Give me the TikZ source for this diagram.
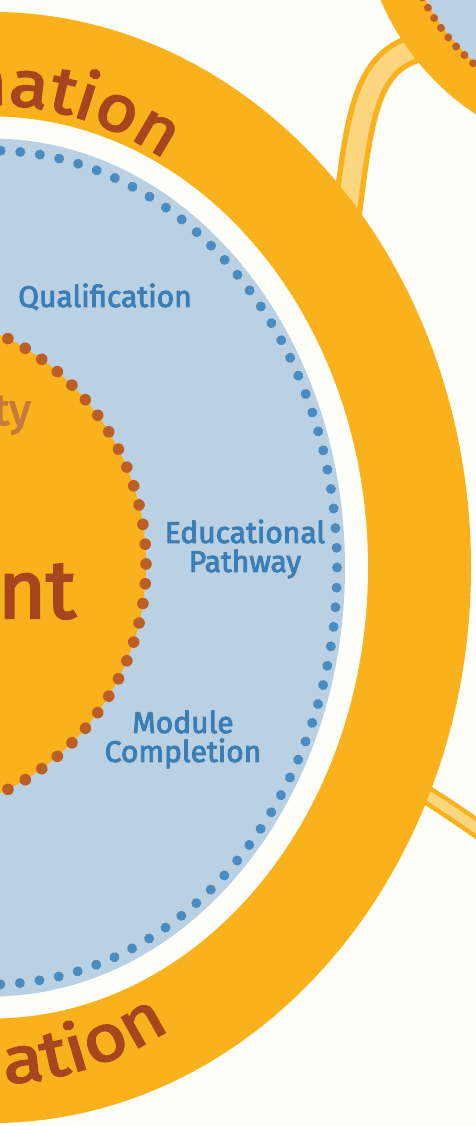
\documentclass[tikz,border=0pt]{standalone}
\usepackage{fontspec}
\newfontfamily\firamed{Fira Sans}[FakeBold=3]
\newfontfamily\ringfam{Fira Sans}[FakeBold=3, FakeStretch=1.1]
\newfontfamily\ringfamwide{Fira Sans}[FakeBold=3, FakeStretch=1.15]
\usetikzlibrary{calc,decorations.text,decorations.markings}
\definecolor{bgc}{HTML}{FEFEFA}
\definecolor{ringor}{HTML}{F9B21B}
\definecolor{paleor}{HTML}{FCD57F}
\definecolor{bluefill}{HTML}{BAD1E3}
\definecolor{bluedot}{HTML}{4A8CC2}
\definecolor{bluetxt}{HTML}{3B7EB6}
\definecolor{browndot}{HTML}{BE5E27}
\definecolor{browntxt}{HTML}{A7461E}
\definecolor{tytxt}{HTML}{C57A3B}
\newcommand\ringfont{\ringfam\fontsize{65}{65}\selectfont\color{browntxt}}
\newcommand\ringfontwide{\ringfamwide\fontsize{65}{65}\selectfont\color{browntxt}}
\tikzset{
  labeltxt/.style={font=\firamed\fontsize{30}{29}\selectfont, text=bluetxt, align=center, inner sep=0pt},
  dotring/.style n args={3}{decoration={markings,
      mark=between positions 0 and 0.999 step #1 with {\fill[#2] (0,0) circle (#3);}}, decorate},
  linkouterA/.style={draw=ringor, line width=30pt},
  linkinnerA/.style={draw=paleor, line width=19pt},
  linkouterB/.style={draw=ringor, line width=19pt},
  linkinnerB/.style={draw=paleor, line width=10pt},
}
\begin{document}
\begin{tikzpicture}[x=1pt,y=1pt]
\fill[bgc] (0,0) rectangle (475,1126);
\useasboundingbox (0,0) rectangle (475,1126);
% centres
\coordinate (C1) at (-9,558.5);
\coordinate (C2) at (-107,562);
\coordinate (C3) at (618,1227);
% link ends
\coordinate (L1a) at (345,896);
\coordinate (L1b) at (430,1081);
\coordinate (L2a) at (395,350);
\coordinate (L2b) at (495,285);
% connectors
\draw[linkouterA] (L1a) .. controls (360,1016) and (365,1071) .. (L1b);
\draw[linkinnerA] (L1a) .. controls (360,1016) and (365,1071) .. (L1b);
\draw[linkouterB] (L2a) .. controls (430,330) and (455,313) .. (L2b);
\draw[linkinnerB] (L2a) .. controls (430,330) and (455,313) .. (L2b);
% top-right circle
\fill[ringor] (C3) circle (258pt);
\fill[bluefill] (C3) circle (217pt);
\path[dotring={0.008696}{browndot}{4pt}] (C3) circle (219pt);
% main ring
\fill[ringor] (C1) ellipse [x radius=480pt, y radius=555.6pt];
\fill[bgc] (C1) ellipse [x radius=377pt, y radius=451pt];
\fill[bluefill] (C1) ellipse [x radius=354pt, y radius=429pt];
\path[dotring={0.008197}{bluedot}{5pt}] (C1) ellipse [x radius=346pt, y radius=417pt];
% inner disc
\fill[ringor] (C2) circle (253pt);
\path[dotring={0.0125}{browndot}{5.8pt}] (C2) circle (253pt);
% ring texts
\path[decorate, decoration={text along path, text align=right, text={|\ringfont|nation}}]
  ($(C1)+(100:368pt and 463pt)$) arc[start angle=100, end angle=61.8, x radius=368pt, y radius=463pt];
\path[decorate, decoration={text along path, text align=left, text={|\ringfontwide|ation}}]
  ($(C1)+(-88:400pt and 516pt)$) arc[start angle=-88, end angle=-40, x radius=400pt, y radius=516pt];
% inner texts
\node[font=\firamed\fontsize{44}{44}\selectfont, text=tytxt, inner sep=0pt, anchor=base east] (ty) at (31,701) {ty};
\node[font=\firamed\fontsize{82}{82}\selectfont, text=browntxt, inner sep=0pt, anchor=base east] (nt) at (76,508) {nt};
\node[labeltxt, anchor=base] (qual) at (105,819) {Qualification};
\node[labeltxt, anchor=base] (edu) at (245,554) {Educational\\Pathway};
\node[labeltxt, anchor=base] (mod) at (183,364) {Module\\Completion};
\end{tikzpicture}
\end{document}
